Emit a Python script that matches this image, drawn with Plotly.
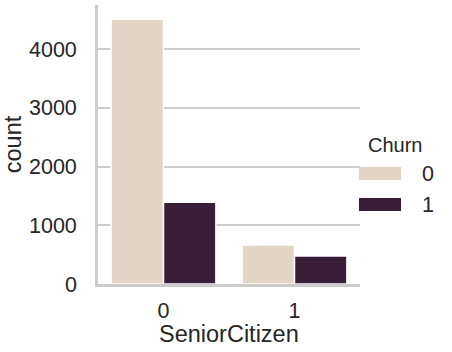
import plotly.graph_objects as go

categories = ["0", "1"]
churn_labels = ["0", "1"]
counts_churn0 = [4508, 666]
counts_churn1 = [1393, 476]
colors = ["#e2d5c6", "#371e36"]

W, H = 452, 352
L, R, T, B = 98, 360, 5, 284

fig = go.Figure()
for lab, vals, col in zip(churn_labels, [counts_churn0, counts_churn1], colors):
    fig.add_trace(go.Bar(x=categories, y=vals, name=lab, marker_color=col,
                         marker_line_color="white", marker_line_width=1.5,
                         showlegend=False))

def px(x):
    return (x - L) / (R - L)

def py(y):
    return (B - y) / (B - T)

font = "Liberation Sans, Arial, sans-serif"
txt = "#262626"

shapes = []
annotations = []
annotations.append(dict(x=px(394.5), y=py(144.5), xref="paper", yref="paper", text="Churn",
                        showarrow=False, font=dict(size=20, color=txt, family=font),
                        xanchor="center", yanchor="middle"))
annotations.append(dict(x=0.5, y=py(333.5), xref="paper", yref="paper", text="SeniorCitizen",
                        showarrow=False, font=dict(size=23.5, color=txt, family=font),
                        xanchor="center", yanchor="middle"))
for i, (lab, col) in enumerate(zip(churn_labels, colors)):
    yc = 173.5 + i * 31
    shapes.append(dict(type="rect", xref="paper", yref="paper",
                       x0=px(359), x1=px(401), y0=py(yc - 6.5), y1=py(yc + 6.5),
                       fillcolor=col, line_width=0))
    annotations.append(dict(x=px(420), y=py(yc), xref="paper", yref="paper", text=lab,
                            showarrow=False, font=dict(size=21.5, color=txt, family=font),
                            xanchor="left", yanchor="middle"))

fig.update_layout(
    width=W, height=H,
    margin=dict(l=L, r=W - R, t=T, b=H - B),
    paper_bgcolor="white", plot_bgcolor="white",
    barmode="group", bargap=0.2, bargroupgap=0,
    font=dict(family=font, size=21.5, color=txt),
    shapes=shapes, annotations=annotations,
    xaxis=dict(showline=True, linecolor="#cccccc", linewidth=2.7,
               showgrid=False, ticks="", ticklabelstandoff=5,
               range=[-0.5, 1.5], zeroline=False),
    yaxis=dict(title=dict(text="count", font=dict(size=23.5), standoff=5),
               showline=True, linecolor="#cccccc", linewidth=2.7,
               showgrid=True, gridcolor="#cccccc", gridwidth=2,
               tickvals=[0, 1000, 2000, 3000, 4000], ticks="",
               ticklabelstandoff=14, range=[0, 4750], zeroline=False),
)

fig.write_html("out.html")
